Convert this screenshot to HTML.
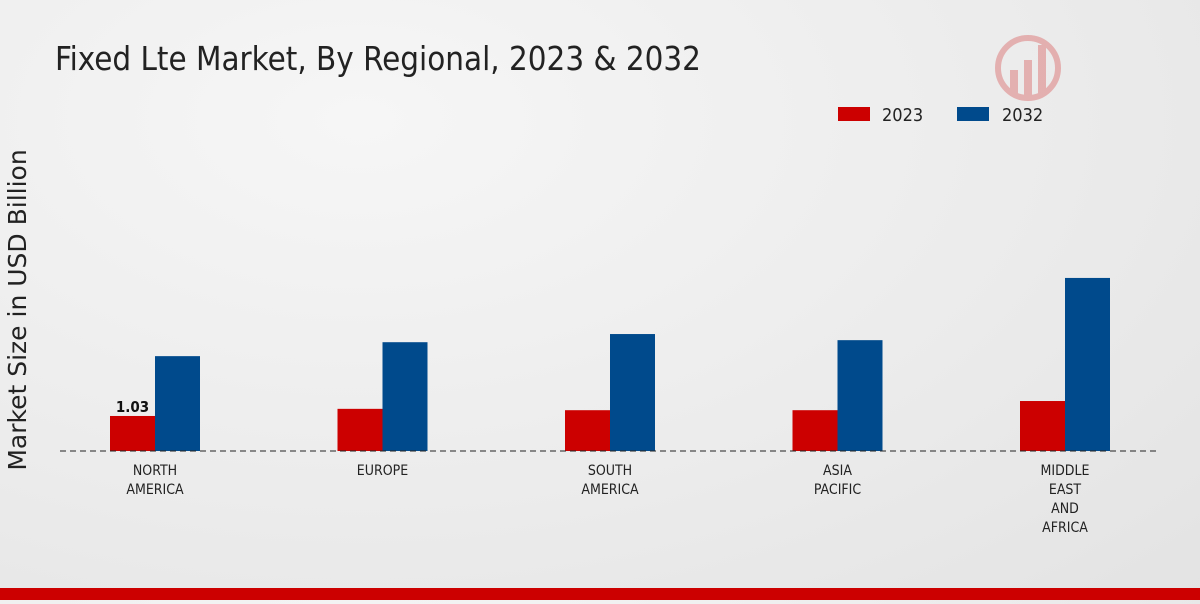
<!DOCTYPE html>
<html><head><meta charset="utf-8"><style>
body{margin:0;width:1200px;height:600px;overflow:hidden;background:radial-gradient(ellipse at 30% 20%,#f6f6f6 0%,#ebebeb 60%,#e3e3e3 100%);font-family:"DejaVu Sans Condensed","DejaVu Sans","Liberation Sans",sans-serif}
</style></head><body>
<svg width="1200" height="600">
<text x="55" y="70" font-size="32.8" fill="#222" font-family="DejaVu Sans Condensed, DejaVu Sans, sans-serif">Fixed Lte Market, By Regional, 2023 &amp; 2032</text>
<g opacity="0.25">
<circle cx="1028" cy="68" r="30" fill="none" stroke="#c00" stroke-width="6"/>
<rect x="1010" y="70" width="8" height="25" fill="#c00"/><rect x="1024" y="60" width="8" height="35" fill="#c00"/><rect x="1038" y="45" width="8" height="50" fill="#c00"/>
</g>
<g>
<rect x="838" y="107" width="32" height="14" fill="#cc0000"/>
<text x="882" y="121" font-size="18" fill="#222">2023</text>
<rect x="957" y="107" width="32" height="14" fill="#004a8c"/>
<text x="1002" y="121" font-size="18" fill="#222">2032</text>
</g>
<text transform="translate(26,310) rotate(-90)" text-anchor="middle" font-size="25" fill="#222" font-family="DejaVu Sans, sans-serif">Market Size in USD Billion</text>
<g id="bars"></g>
<line x1="60" y1="451" x2="1160" y2="451" stroke="#222" stroke-dasharray="6,4"/>
<g id="labels"></g>
<rect x="0" y="588" width="1200" height="12" fill="#cc0000"/>
</svg>
<script>
const categories=[["NORTH","AMERICA"],["EUROPE"],["SOUTH","AMERICA"],["ASIA","PACIFIC"],["MIDDLE","EAST","AND","AFRICA"]];
const values2023=[1.03,1.24,1.2,1.2,1.47];
const values2032=[2.79,3.2,3.44,3.26,5.09];
const ns="http://www.w3.org/2000/svg";
const base=451, scale=34, bw=45;
const cx=i=>155+i*227.5;
const y=v=>base-v*scale;
const bars=document.getElementById('bars'), labels=document.getElementById('labels');
categories.forEach((c,i)=>{
  [[values2023,'#cc0000',-bw,'2023'],[values2032,'#004a8c',0,'2032']].forEach(([arr,col,off,yr])=>{
    const r=document.createElementNS(ns,'rect');
    r.setAttribute('x',cx(i)+off);r.setAttribute('y',y(arr[i]));
    r.setAttribute('width',bw);r.setAttribute('height',arr[i]*scale);r.setAttribute('fill',col);
    
    
    bars.appendChild(r);
  });
  c.forEach((line,j)=>{
    const t=document.createElementNS(ns,'text');
    t.setAttribute('x',cx(i));t.setAttribute('y',475+j*19);t.setAttribute('text-anchor','middle');
    t.setAttribute('font-size','14');t.setAttribute('fill','#222');t.textContent=line;
    
    
    labels.appendChild(t);
  });
});
const v=document.createElementNS(ns,'text');
v.setAttribute('x',cx(0)-bw/2);v.setAttribute('y',y(values2023[0])-4);v.setAttribute('text-anchor','middle');
v.setAttribute('font-size','15');v.setAttribute('font-weight','bold');v.setAttribute('fill','#111');
v.textContent=values2023[0].toFixed(2);


labels.appendChild(v);
</script>
</body></html>
